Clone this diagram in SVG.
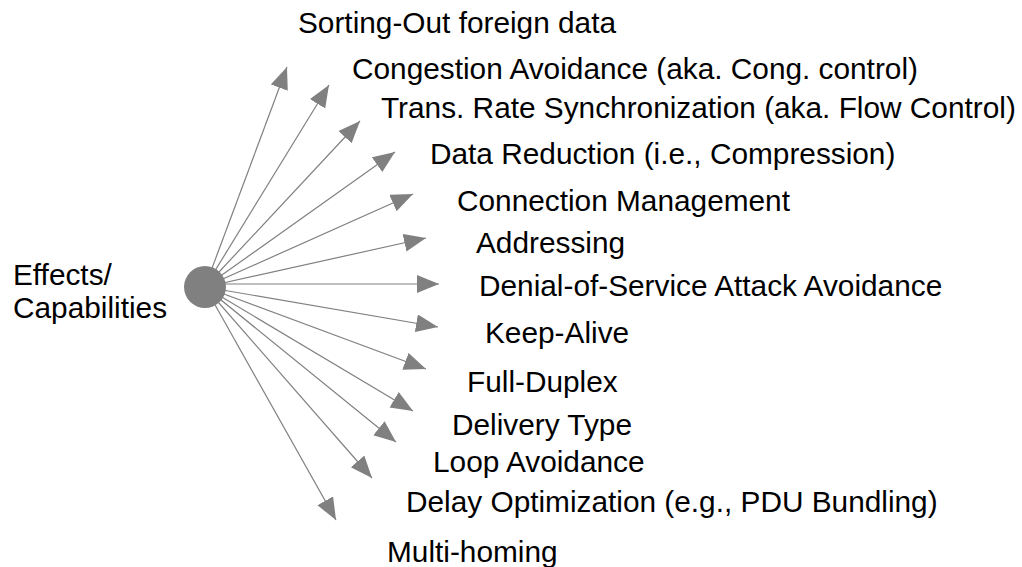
<svg xmlns="http://www.w3.org/2000/svg" width="1022" height="567" viewBox="0 0 1022 567">
<style>
text{font-family:"Liberation Sans",Arial,sans-serif;font-size:29.8px;fill:#000}
.c line{stroke:#808080;stroke-width:1.2}
</style>
<defs>
<marker id="ah" markerUnits="userSpaceOnUse" markerWidth="24" markerHeight="20" refX="22" refY="9" orient="auto">
<path d="M0,0 L22,9 L0,18 z" fill="#808080"/>
</marker>
</defs>
<rect width="1022" height="567" fill="#fff"/>
<g class="c">
<line x1="205" y1="287" x2="287" y2="67" marker-end="url(#ah)"/>
<line x1="205" y1="287" x2="329" y2="85" marker-end="url(#ah)"/>
<line x1="205" y1="287" x2="360" y2="121" marker-end="url(#ah)"/>
<line x1="205" y1="287" x2="395" y2="152" marker-end="url(#ah)"/>
<line x1="205" y1="287" x2="413" y2="194" marker-end="url(#ah)"/>
<line x1="205" y1="287" x2="426" y2="238" marker-end="url(#ah)"/>
<line x1="205" y1="284" x2="439" y2="284" marker-end="url(#ah)"/>
<line x1="205" y1="287" x2="438" y2="327" marker-end="url(#ah)"/>
<line x1="205" y1="287" x2="426" y2="369" marker-end="url(#ah)"/>
<line x1="205" y1="287" x2="413" y2="411" marker-end="url(#ah)"/>
<line x1="205" y1="287" x2="396" y2="442" marker-end="url(#ah)"/>
<line x1="205" y1="287" x2="372" y2="478" marker-end="url(#ah)"/>
<line x1="205" y1="287" x2="336" y2="520" marker-end="url(#ah)"/>
</g>
<g id="hub"><circle cx="205" cy="287" r="21" fill="#808080"/>
<text x="13" y="285">Effects/</text><text x="13" y="318">Capabilities</text></g>
<g id="n1"><text x="298" y="33">Sorting-Out foreign data</text></g>
<g id="n2"><text x="352" y="79">Congestion Avoidance (aka. Cong. control)</text></g>
<g id="n3"><text x="381" y="118">Trans. Rate Synchronization (aka. Flow Control)</text></g>
<g id="n4"><text x="430" y="164">Data Reduction (i.e., Compression)</text></g>
<g id="n5"><text x="457" y="211">Connection Management</text></g>
<g id="n6"><text x="476" y="253">Addressing</text></g>
<g id="n7"><text x="479" y="296">Denial-of-Service Attack Avoidance</text></g>
<g id="n8"><text x="485" y="343">Keep-Alive</text></g>
<g id="n9"><text x="467" y="392">Full-Duplex</text></g>
<g id="n10"><text x="452" y="435">Delivery Type</text></g>
<g id="n11"><text x="433" y="472">Loop Avoidance</text></g>
<g id="n12"><text x="406" y="512">Delay Optimization (e.g., PDU Bundling)</text></g>
<g id="n13"><text x="387" y="562">Multi-homing</text></g>
</svg>
